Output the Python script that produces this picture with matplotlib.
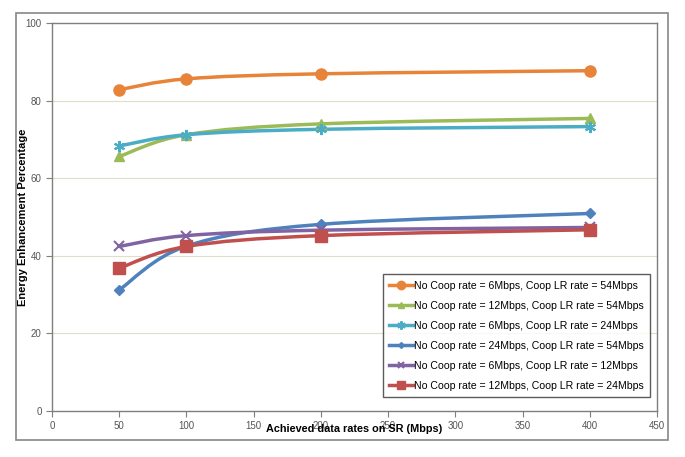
import matplotlib
matplotlib.use("Agg")
import matplotlib.pyplot as plt
import numpy as np
from matplotlib.path import Path
from matplotlib.patches import PathPatch, Rectangle
from matplotlib.lines import Line2D

x_rates = [50, 100, 200, 400]
labels = [
    "No Coop rate = 6Mbps, Coop LR rate = 54Mbps",
    "No Coop rate = 12Mbps, Coop LR rate = 54Mbps",
    "No Coop rate = 6Mbps, Coop LR rate = 24Mbps",
    "No Coop rate = 24Mbps, Coop LR rate = 54Mbps",
    "No Coop rate = 6Mbps, Coop LR rate = 12Mbps",
    "No Coop rate = 12Mbps, Coop LR rate = 24Mbps",
]
s_6_54 = [82.8, 85.6, 86.9, 87.7]
s_12_54 = [65.6, 71.2, 74.0, 75.4]
s_6_24 = [68.3, 71.2, 72.6, 73.3]
s_24_54 = [31.2, 42.5, 48.1, 50.9]
s_6_12 = [42.4, 45.2, 46.6, 47.3]
s_12_24 = [36.8, 42.4, 45.2, 46.7]
series = [s_6_54, s_12_54, s_6_24, s_24_54, s_6_12, s_12_24]

colors = ["#E8833A", "#9BBB59", "#4BACC6", "#4F81BD", "#8064A2", "#C0504D"]
markers = ["o", "^", (6, 2, 0), "D", "x", "s"]
msizes = [8, 7, 8, 5, 7, 8]

plt.rcParams['font.family'] = ['Liberation Sans', 'DejaVu Sans']

fig = plt.figure(figsize=(6.85, 4.57), dpi=100)
fig.patches.append(Rectangle((0.023, 0.037), 0.952, 0.934, transform=fig.transFigure,
                             fill=False, edgecolor="#888888", linewidth=1.2))
ax = fig.add_axes([0.0759, 0.1007, 0.8832, 0.849])


def smooth_path(xs, ys):
    pts = np.column_stack([xs, ys]).astype(float)
    n = len(pts)
    verts = [pts[0]]
    codes = [Path.MOVETO]
    for i in range(n - 1):
        p0 = pts[i - 1] if i > 0 else pts[i]
        p1 = pts[i]
        p2 = pts[i + 1]
        p3 = pts[i + 2] if i + 2 < n else pts[i + 1]
        c1 = p1 + (p2 - p0) / 6.0
        c2 = p2 - (p3 - p1) / 6.0
        verts += [c1, c2, p2]
        codes += [Path.CURVE4] * 3
    return Path(verts, codes)


handles = []
for ys, c, m, ms, lab in zip(series, colors, markers, msizes, labels):
    ax.add_patch(PathPatch(smooth_path(x_rates, ys), fill=False, edgecolor=c,
                           linewidth=2.5, zorder=3, capstyle='round'))
    mew = 1.5 if m in ("x", (6, 2, 0)) else 1
    ax.plot(x_rates, ys, linestyle='none', marker=m, markersize=ms, color=c,
            markeredgecolor=c, markeredgewidth=mew, zorder=4)
    handles.append(Line2D([], [], color=c, linewidth=2.5, marker=m, markersize=ms - 2,
                          markeredgewidth=mew, label=lab))

ax.set_xlim(0, 450)
ax.set_ylim(0, 100)
ax.set_xticks(range(0, 451, 50))
ax.set_yticks(range(0, 101, 20))
ax.yaxis.grid(True, color="#E2DDC8", linewidth=0.8)
ax.set_axisbelow(True)
for sp in ax.spines.values():
    sp.set_color("#7F7F7F")
    sp.set_linewidth(1.0)
ax.tick_params(direction='out', length=4, color="#7F7F7F", labelsize=7,
               labelcolor="#555555")
ax.set_xlabel("Achieved data rates on SR (Mbps)", fontsize=7.8, fontweight='bold',
              labelpad=-5)
ax.set_ylabel("Energy Enhancement Percentage", fontsize=8, fontweight='bold',
              labelpad=-2)

leg = ax.legend(handles=handles, loc='lower right', bbox_to_anchor=(0.988, 0.036),
                fontsize=7.6, frameon=True, fancybox=False, edgecolor="#333333",
                labelspacing=0.95, handlelength=2.2, handletextpad=0.1,
                borderpad=0.6, borderaxespad=0)
leg.get_frame().set_linewidth(1.0)

fig.savefig("out.png", dpi=100)
